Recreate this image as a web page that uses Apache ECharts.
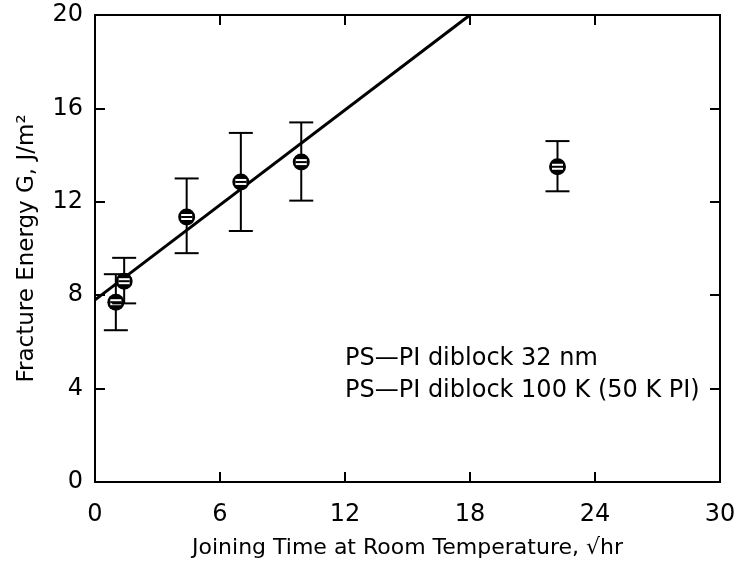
<!DOCTYPE html>
<html>
<head>
<meta charset="utf-8">
<script src="https://cdn.jsdelivr.net/npm/echarts@6/dist/echarts.min.js"></script>
<style>
  html, body { margin: 0; padding: 0; background: #fff; }
  #main { width: 739px; height: 565px; }
</style>
</head>
<body>
<div id="main"></div>
<script>
// data
var joinTime = [1.0, 1.4, 4.4, 7.0, 9.9, 22.2];
var energy = [7.7, 8.6, 11.35, 12.85, 13.7, 13.5];
var errHigh = [8.9, 9.6, 13.0, 14.95, 15.4, 14.6];
var errLow = [6.5, 7.65, 9.8, 10.75, 12.05, 12.45];
var fitLine = [[0, 7.8], [18, 20]];
var legendLines = ['PS\u2014PI diblock 32 nm', 'PS\u2014PI diblock 100 K (50 K PI)'];

var FONT = 'DejaVu Sans';

var points = [];
for (var i = 0; i < joinTime.length; i++) {
    points.push([joinTime[i], energy[i], errLow[i], errHigh[i]]);
}

var myChart = echarts.init(document.getElementById('main'));

function renderPoint(params, api) {
    var c = api.coord([api.value(0), api.value(1)]);
    var lo = api.coord([api.value(0), api.value(2)]);
    var hi = api.coord([api.value(0), api.value(3)]);
    var cap = 12;
    var st = {stroke: '#000', lineWidth: 2};
    return {
        type: 'group',
        children: [
            {type: 'line', shape: {x1: c[0], y1: hi[1], x2: c[0], y2: lo[1]}, style: st},
            {type: 'line', shape: {x1: c[0] - cap, y1: hi[1], x2: c[0] + cap, y2: hi[1]}, style: st},
            {type: 'line', shape: {x1: c[0] - cap, y1: lo[1], x2: c[0] + cap, y2: lo[1]}, style: st},
            {type: 'circle', shape: {cx: c[0], cy: c[1], r: 8.5}, style: {fill: '#000'}},
            {type: 'rect', shape: {x: c[0] - 5.5, y: c[1] - 3, width: 11, height: 6}, style: {fill: '#fff'}},
            {type: 'line', shape: {x1: c[0] - 5.5, y1: c[1], x2: c[0] + 5.5, y2: c[1]}, style: {stroke: '#000', lineWidth: 2}}
        ]
    };
}

var axisLineStyle = {show: true, onZero: false, lineStyle: {color: '#000', width: 2}};
var tickStyle = {show: true, inside: true, length: 10, lineStyle: {color: '#000', width: 2}};

var option = {
    animation: false,
    backgroundColor: '#fff',
    grid: {
        left: 95, right: 19, top: 15, bottom: 83,
        outerBoundsMode: 'none', containLabel: false,
        show: true, borderColor: '#000', borderWidth: 2
    },
    xAxis: [
        {
            type: 'value', min: 0, max: 30, interval: 6, position: 'bottom',
            axisLine: axisLineStyle, axisTick: tickStyle, splitLine: {show: false},
            axisLabel: {color: '#000', fontSize: 24, fontFamily: FONT, margin: 21},
            name: 'Joining Time at Room Temperature, \u221Ahr',
            nameLocation: 'middle', nameGap: 55,
            nameTextStyle: {color: '#000', fontSize: 22, fontFamily: FONT}
        },
        {
            type: 'value', min: 0, max: 30, interval: 6, position: 'top',
            axisLine: axisLineStyle, axisTick: tickStyle, splitLine: {show: false},
            axisLabel: {show: false}
        }
    ],
    yAxis: [
        {
            type: 'value', min: 0, max: 20, interval: 4, position: 'left',
            axisLine: axisLineStyle, axisTick: tickStyle, splitLine: {show: false},
            axisLabel: {color: '#000', fontSize: 24, fontFamily: FONT, margin: 12},
            name: 'Fracture Energy G, J/m\u00B2',
            nameLocation: 'middle', nameGap: 56, nameRotate: 90,
            nameTextStyle: {color: '#000', fontSize: 23, fontFamily: FONT}
        },
        {
            type: 'value', min: 0, max: 20, interval: 4, position: 'right',
            axisLine: axisLineStyle, axisTick: tickStyle, splitLine: {show: false},
            axisLabel: {show: false}
        }
    ],
    graphic: [
        {type: 'text', left: 345, top: 347, style: {text: legendLines[0], fill: '#000', fontSize: 24, fontFamily: FONT}},
        {type: 'text', left: 345, top: 379, style: {text: legendLines[1], fill: '#000', fontSize: 24, fontFamily: FONT}}
    ],
    series: [
        {
            type: 'line',
            data: fitLine,
            symbol: 'none',
            lineStyle: {color: '#000', width: 3},
            z: 3
        },
        {
            type: 'custom',
            data: points,
            renderItem: renderPoint,
            encode: {x: 0, y: 1},
            z: 4
        },
        {
            // keeps the top and right axes drawn
            type: 'line',
            xAxisIndex: 1,
            yAxisIndex: 1,
            data: [],
            symbol: 'none'
        }
    ]
};

myChart.setOption(option);
</script>
</body>
</html>
